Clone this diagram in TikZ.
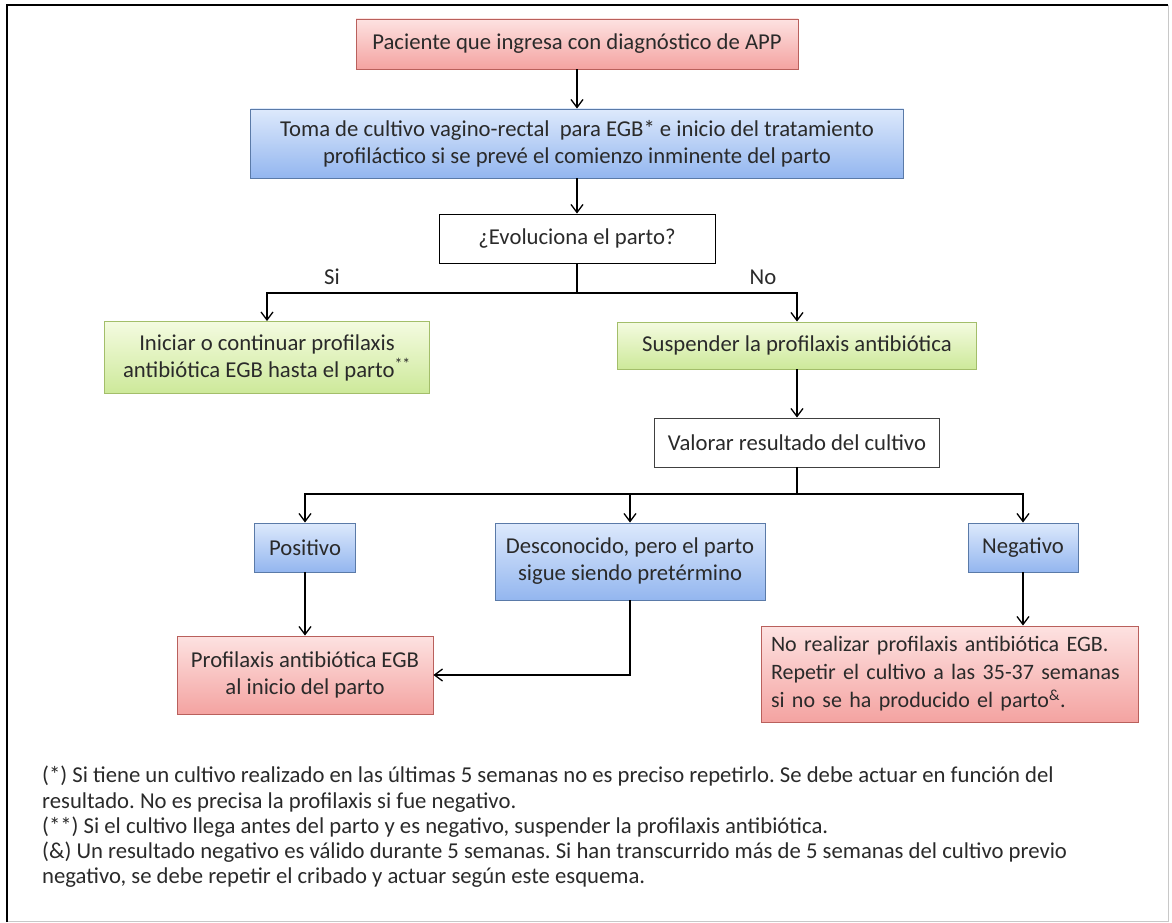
\documentclass[tikz,border=0pt]{standalone}
\usepackage{fontspec}
\setmainfont{Carlito}
\frenchspacing
\usetikzlibrary{arrows.meta,calc}
\definecolor{txt}{HTML}{2A2A2A}
\definecolor{redtop}{HTML}{FDE2E1}
\definecolor{redbot}{HTML}{F4A3A1}
\definecolor{redline}{HTML}{B9605C}
\definecolor{bluetop}{HTML}{DDE9FC}
\definecolor{bluebot}{HTML}{93B6EF}
\definecolor{blueline}{HTML}{5A7AA8}
\definecolor{greentop}{HTML}{F4FBE0}
\definecolor{greenbot}{HTML}{CDE99A}
\definecolor{greenline}{HTML}{A3BE6A}
\definecolor{frameR}{HTML}{C8C8C8}
\tikzset{
  box/.style={draw, line width=0.9pt, inner sep=0pt, align=center, text=txt,
    font=\fontsize{22.7}{27}\selectfont},
  redbox/.style={box, draw=redline, top color=redtop, bottom color=redbot},
  bluebox/.style={box, draw=blueline, top color=bluetop, bottom color=bluebot},
  greenbox/.style={box, draw=greenline, top color=greentop, bottom color=greenbot},
  whitebox/.style={box, draw=black, fill=white},
  ln/.style={draw=black, line width=1.3pt},
  arr/.style={ln, -{Straight Barb[length=8pt,width=12pt,line width=1.3pt]}},
  lbl/.style={text=txt, font=\fontsize{22.7}{27}\selectfont, inner sep=0pt},
}
\begin{document}
\begin{tikzpicture}[x=1pt,y=-1pt]
\useasboundingbox (0,0) rectangle (1172,923);
\fill[white] (0,0) rectangle (1172,923);
% frame
\draw[frameR, line width=1pt] (7,921) -- (1168,921) -- (1168,5);
\draw[black, line width=2.5pt] (7,922) -- (7,5) -- (1168,5);

\node[redbox, minimum width=442pt, minimum height=50pt] (A) at (577,44)
  {Paciente que ingresa con diagnóstico de APP};
\node[bluebox, minimum width=653pt, minimum height=69pt] (B) at (577,143.5)
  {Toma de cultivo vagino-rectal\ \ para EGB* e inicio del tratamiento\\
   profiláctico si se prevé el comienzo inminente del parto};
\node[whitebox, minimum width=276pt, minimum height=49pt] (C) at (577,238.5)
  {¿Evoluciona el parto?};
\node[greenbox, minimum width=325pt, minimum height=72pt] (D) at (267,357.5)
  {Iniciar o continuar profilaxis\\antibiótica EGB hasta el parto\textsuperscript{**}};
\node[greenbox, minimum width=359pt, minimum height=47pt] (E) at (797,345.5)
  {Suspender la profilaxis antibiótica};
\node[whitebox, draw=black!75, minimum width=285pt, minimum height=49pt] (F) at (797,442.5)
  {Valorar resultado del cultivo};
\node[bluebox, minimum width=101pt, minimum height=49pt] (G) at (305,547.5)
  {Positivo};
\node[bluebox, minimum width=270pt, minimum height=77pt] (H) at (630,561.5)
  {Desconocido, pero el parto\\sigue siendo pretérmino};
\node[bluebox, minimum width=110pt, minimum height=49pt] (I) at (1023,547.5)
  {Negativo};
\node[redbox, minimum width=256pt, minimum height=78pt] (J) at (305,675)
  {Profilaxis antibiótica EGB\\al inicio del parto};
\node[redbox, align=left, text width=357pt, inner xsep=10pt, minimum height=96pt,
      font=\fontsize{22}{28}\selectfont] (K) at (949.5,674)
  {No realizar profilaxis antibiótica EGB.\\Repetir el cultivo a las 35-37 semanas\\si no se ha producido el parto\textsuperscript{\&}.};

% connectors
\draw[arr] (A.south) -- (B.north);
\draw[arr] (B.south) -- (C.north);
\coordinate (j1) at (577,293);
\draw[ln] (C.south) -- (j1);
\draw[arr] (j1) -| (D.north);
\draw[arr] (j1) -| (E.north);
\node[lbl] (si) at (332,277) {Si};
\node[lbl] (no) at (763,277) {No};
\draw[arr] (E.south) -- (F.north);
\coordinate (j2) at (797,494);
\draw[ln] (F.south) -- (j2);
\draw[arr] (j2) -| (G.north);
\draw[arr] (j2) -| (H.north);
\draw[arr] (j2) -| (I.north);
\draw[arr] (G.south) -- (J.north);
\draw[arr] (H.south) |- (J.east);
\draw[arr] (I.south) -- (I.south |- K.north);

% notes
\node[anchor=north west, align=left, inner sep=0pt, text=txt,
      font=\fontsize{22.7}{25.2}\selectfont] (notes) at (42,766)
  {(*) Si tiene un cultivo realizado en las últimas 5 semanas no es preciso repetirlo. Se debe actuar en función del\\
   resultado. No es precisa la profilaxis si fue negativo.\\
   (**) Si el cultivo llega antes del parto y es negativo, suspender la profilaxis antibiótica.\\
   (\&) Un resultado negativo es válido durante 5 semanas. Si han transcurrido más de 5 semanas del cultivo previo\\
   negativo, se debe repetir el cribado y actuar según este esquema.};
\end{tikzpicture}
\end{document}
